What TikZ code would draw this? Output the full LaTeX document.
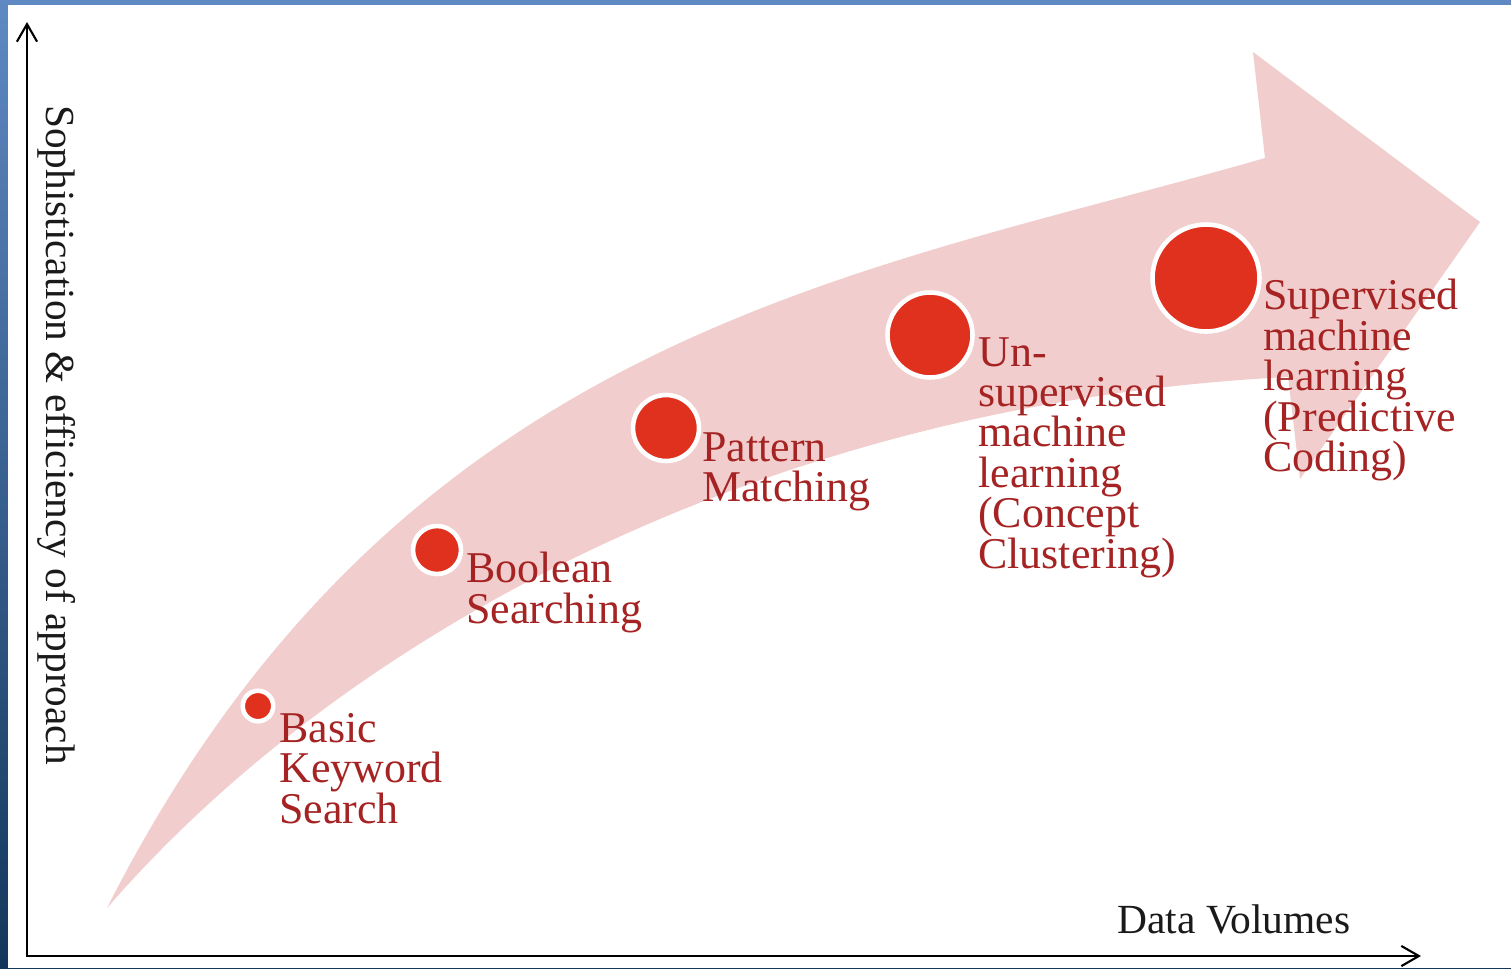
\documentclass[tikz,border=0pt]{standalone}
\usepackage{fontspec}
\setmainfont{Liberation Serif}
\usetikzlibrary{arrows.meta}

\definecolor{frametop}{HTML}{5E89C2}
\definecolor{framebot}{HTML}{13375C}
\definecolor{bandpink}{HTML}{F2CDCD}
\definecolor{dotred}{HTML}{E0301E}
\definecolor{lblred}{HTML}{A52323}
\definecolor{axistext}{HTML}{1A1A1A}

\begin{document}
\begin{tikzpicture}[x=0.02cm, y=-0.02cm,
  dot/.style = {circle, draw=white, line width=2.6pt, fill=dotred, inner sep=0pt},
  lbl/.style = {anchor=north west, align=left, inner sep=0pt, text=lblred, font=\fontsize{25}{23}\selectfont},
  axis/.style = {line width=1.2pt, {Straight Barb[length=10pt, width=11.5pt]}-{Straight Barb[length=10pt, width=11.5pt]}}]

%% frame
\shade[top color=frametop, bottom color=framebot] (0,0) rectangle (1511,968);
\fill[white] (8,5) rectangle (1511,968);

%% big curved arrow
\fill[bandpink] (107,908) .. controls (400,330) and (860,275) .. (1265,158)
  -- (1253,52) -- (1480,222) -- (1300,479) -- (1288,377)
  .. controls (788,402) and (357,620) .. (107,908) -- cycle;

%% axes
\coordinate (o) at (27,956);
\coordinate (ytop) at (27,22);
\coordinate (xend) at (1421,956);
\draw[axis] (ytop) -- (o) -- (xend);

\node[rotate=-90, anchor=base, inner sep=0pt, text=axistext, font=\fontsize{23.5}{28}\selectfont] (ylab) at (46,435) {Sophistication \& efficiency of approach};
\node[anchor=base west, inner sep=0pt, text=axistext, font=\fontsize{23.6}{28}\selectfont] (xlab) at (1117,933) {Data Volumes};

%% dots
\node[dot, minimum size=0.61cm] (d1) at (258,706) {};
\node[dot, minimum size=0.96cm] (d2) at (437,550) {};
\node[dot, minimum size=1.32cm] (d3) at (666,428) {};
\node[dot, minimum size=1.70cm] (d4) at (930,335) {};
\node[dot, minimum size=2.14cm] (d5) at (1206,278) {};

%% labels
\node[lbl] (l1) at (279,713) {Basic\\Keyword\\Search};
\node[lbl] (l2) at (466,552) {Boolean\\Searching};
\node[lbl] (l3) at (702,432) {Pattern\\Matching};
\node[lbl] (l4) at (978,337) {Un-\\supervised\\machine\\learning\\(Concept\\Clustering)};
\node[lbl] (l5) at (1263,279) {Supervised\\machine\\learning\\(Predictive\\Coding)};

\end{tikzpicture}
\end{document}
